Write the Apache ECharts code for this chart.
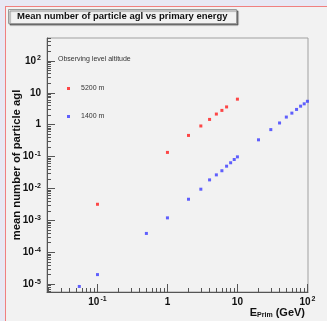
<!DOCTYPE html>
<html>
<head>
<meta charset="utf-8">
<script src="https://cdn.jsdelivr.net/npm/echarts@6/dist/echarts.min.js"></script>
<style>
  html, body { margin: 0; padding: 0; background: #e8e8f4; }
  #frame {
    position: absolute; left: 5px; top: 6px; width: 322px; height: 315px;
    box-sizing: border-box; background: #f2f2f2;
    border-left: 1px solid #f08080; border-top: 1px solid #f08080;
  }
  #chart { width: 321px; height: 314px; }
</style>
</head>
<body>
<div id="frame"><div id="chart"></div></div>
<script>
const seriesNames = ['5200 m', '1400 m']

const energy5200 = [0.1, 1, 2, 3, 4, 5, 6, 7, 10]
const mean5200 = [0.0032, 0.135, 0.46, 0.91, 1.46, 2.15, 2.8, 3.6, 6.3]

const energy1400 = [0.055, 0.1, 0.5, 1, 2, 3, 4, 5, 6, 7, 8, 9, 10, 20, 30, 40, 50, 60, 70, 80, 90, 100]
const mean1400 = [8.5e-6, 2.0e-5, 3.9e-4, 1.2e-3, 4.6e-3, 9.5e-3, 0.0186, 0.0267, 0.036, 0.05,
  0.064, 0.081, 0.098, 0.335, 0.70, 1.13, 1.73, 2.3, 3.0, 3.8, 4.5, 5.4]

// tick labels are powers of ten; minor ticks at 2..9 in each decade
const xMajorExp = [-1, 0, 1, 2]
const yMajorExp = [-5, -4, -3, -2, -1, 0, 1, 2]
const xMinorDecades = [-2, -1, 0, 1]
const yMinorDecades = [-6, -5, -4, -3, -2, -1, 0, 1, 2]
const minorSteps = [2, 3, 4, 5, 6, 7, 8, 9]

const xRange = [0.019, 102]
const yRange = [5.7e-6, 520]

const font = '"Liberation Sans", Arial, sans-serif'

function majors(exps) {
  return exps.map((e) => Math.pow(10, e))
}

function minors(decades, range) {
  const out = []
  decades.forEach((d) => {
    minorSteps.forEach((m) => {
      const v = m * Math.pow(10, d)
      if (v > range[0] && v < range[1]) out.push(v)
    })
  })
  return out
}

function powLabel(value) {
  const e = Math.round(Math.log10(value))
  if (e === 0) return '{b|1}'
  if (e === 1) return '{b|10}'
  return '{b|10}{s|' + e + '}'
}

const labelRich = {
  b: { fontSize: 10, fontWeight: 'bold', fontFamily: font, color: '#111', lineHeight: 12 },
  s: { fontSize: 7, fontWeight: 'bold', fontFamily: font, color: '#111', lineHeight: 7, verticalAlign: 'top', padding: [0, 0, 0, 1] },
}

function mainAxis(range, exps, extra) {
  return Object.assign({
    type: 'log',
    logBase: 10,
    min: range[0],
    max: range[1],
    axisLine: { show: true, lineStyle: { color: '#555', width: 1 } },
    axisTick: { show: true, inside: true, length: 8, customValues: majors(exps), lineStyle: { color: '#555' } },
    axisLabel: { customValues: majors(exps), formatter: powLabel, rich: labelRich },
    splitLine: { show: false },
    minorTick: { show: false },
    nameMoveOverlap: false,
  }, extra)
}

function minorAxis(range, decades, extra) {
  return Object.assign({
    type: 'log',
    logBase: 10,
    min: range[0],
    max: range[1],
    axisLine: { show: false },
    axisTick: { show: true, inside: true, length: 4, customValues: minors(decades, range), lineStyle: { color: '#555' } },
    axisLabel: { show: false },
    splitLine: { show: false },
  }, extra)
}

const chart = echarts.init(document.getElementById('chart'), null, { renderer: 'canvas' })

chart.setOption({
  animation: false,
  backgroundColor: 'transparent',
  textStyle: { fontFamily: font },
  title: [
    {
      text: 'Mean number of particle agl vs primary energy',
      left: 2,
      top: 2,
      padding: [2, 9, 2, 9],
      backgroundColor: '#f2f2f2',
      borderColor: '#9a9a9a',
      borderWidth: 1,
      shadowColor: 'rgba(0,0,0,0.45)',
      shadowBlur: 1,
      shadowOffsetX: 1.5,
      shadowOffsetY: 1.5,
      textStyle: { fontSize: 9.5, fontWeight: 'bold', color: '#111', fontFamily: font, lineHeight: 11 },
    },
    {
      text: 'Observing level altitude',
      left: 52,
      top: 49,
      padding: 0,
      textStyle: { fontSize: 7, fontWeight: 'normal', color: '#333', fontFamily: font },
    },
  ],
  legend: {
    orient: 'vertical',
    left: 61,
    top: 78,
    padding: 0,
    itemWidth: 3,
    itemHeight: 3,
    itemGap: 21,
    icon: 'rect',
    textStyle: { fontSize: 7, color: '#333', fontFamily: font, padding: [0, 0, 0, 6] },
    data: seriesNames,
  },
  grid: {
    left: 41,
    right: 19,
    top: 31,
    bottom: 29,
    outerBoundsMode: 'none',
    containLabel: false,
    show: true,
    borderColor: '#a0a0a0',
    borderWidth: 1,
    backgroundColor: 'transparent',
  },
  xAxis: [
    mainAxis(xRange, xMajorExp, {
      position: 'bottom',
      axisLabel: { customValues: majors(xMajorExp), formatter: powLabel, rich: labelRich, margin: 4 },
      name: '{e|E}{sub|Prim}{g| (GeV)}',
      nameLocation: 'end',
      nameGap: -3,
      nameTextStyle: {
        align: 'right',
        verticalAlign: 'top',
        padding: [14, 0, 0, 0],
        rich: {
          e: { fontSize: 11, fontWeight: 'bold', fontFamily: font, color: '#111', lineHeight: 13 },
          sub: { fontSize: 7, fontWeight: 'bold', fontFamily: font, color: '#111', lineHeight: 7, verticalAlign: 'bottom' },
          g: { fontSize: 11, fontWeight: 'bold', fontFamily: font, color: '#111', lineHeight: 13 },
        },
      },
    }),
    minorAxis(xRange, xMinorDecades, { position: 'bottom' }),
  ],
  yAxis: [
    mainAxis(yRange, yMajorExp, {
      position: 'left',
      axisLabel: { customValues: majors(yMajorExp), formatter: powLabel, rich: labelRich, margin: 6 },
      name: 'mean number of particle agl',
      nameLocation: 'middle',
      nameGap: 25,
      nameTextStyle: { fontSize: 11.3, fontWeight: 'bold', color: '#111', fontFamily: font },
    }),
    minorAxis(yRange, yMinorDecades, { position: 'left' }),
  ],
  series: [
    {
      name: seriesNames[0],
      type: 'scatter',
      symbol: 'rect',
      symbolSize: 3,
      itemStyle: { color: '#ff1a1a' },
      data: energy5200.map((x, i) => [x, mean5200[i]]),
    },
    {
      name: seriesNames[1],
      type: 'scatter',
      symbol: 'rect',
      symbolSize: 3,
      itemStyle: { color: '#3a3aff' },
      data: energy1400.map((x, i) => [x, mean1400[i]]),
    },
  ],
})
</script>
</body>
</html>
